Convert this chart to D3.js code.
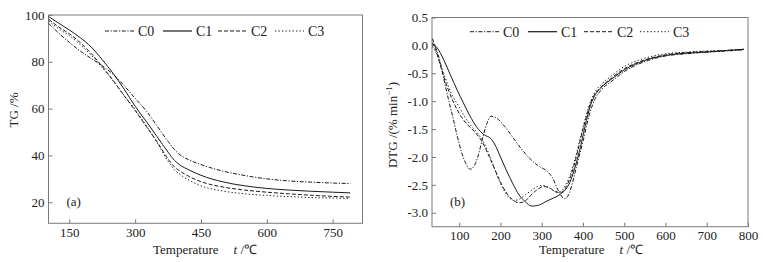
<!DOCTYPE html>
<html>
<head>
<meta charset="utf-8">
<script src="https://cdn.jsdelivr.net/npm/d3@7"></script>
<style>
	body { margin: 0; background: #fff; }
	svg { font-family: "Liberation Serif", "Times New Roman", serif; }
	.frame { fill: none; stroke: #7a7a7a; stroke-width: 1; }
	.series { fill: none; stroke: #1a1a1a; stroke-width: 1; }
	.tick line { stroke: #7a7a7a; }
	.tick text { fill: #222; font-size: 13px; font-family: "Liberation Serif", "Times New Roman", serif; }
</style>
</head>
<body>
<div class="graph"></div>
<script>
// series names
var seriesNames = ["C0", "C1", "C2", "C3"];

// (a) TG, [temperature °C, mass %]
var tgC0 = [[103, 96.4], [125, 92.4], [150, 88.3], [175, 84.6], [200, 81.4], [225, 78.3], [250, 74.6], [275, 69.8], [300, 64.4], [325, 59.1], [350, 52.6], [375, 46.0], [390, 42.4], [400, 40.6], [425, 37.9], [450, 36.1], [500, 33.3], [550, 31.4], [600, 30.0], [650, 29.1], [700, 28.6], [750, 28.2], [790, 28.0]];
var tgC1 = [[103, 99.3], [125, 96.6], [150, 93.6], [175, 90.3], [200, 86.3], [225, 80.9], [250, 75.0], [275, 68.3], [300, 61.0], [325, 54.6], [350, 48.0], [375, 41.4], [390, 37.8], [400, 36.2], [425, 33.6], [450, 31.5], [500, 28.7], [550, 27.0], [600, 25.9], [650, 25.2], [700, 24.7], [750, 24.3], [790, 24.0]];
var tgC2 = [[103, 98.2], [125, 95.0], [150, 92.0], [175, 88.2], [200, 83.5], [225, 78.0], [250, 72.0], [275, 65.5], [300, 59.2], [325, 52.5], [350, 45.8], [375, 38.5], [390, 35.0], [400, 33.6], [425, 30.8], [450, 28.8], [500, 26.5], [550, 25.2], [600, 24.3], [650, 23.6], [700, 23.0], [750, 22.5], [790, 22.2]];
var tgC3 = [[103, 97.5], [125, 94.2], [150, 91.2], [175, 87.3], [200, 82.8], [225, 77.5], [250, 71.8], [275, 65.6], [300, 59.6], [325, 52.8], [350, 45.5], [375, 37.5], [390, 33.8], [400, 32.2], [425, 29.2], [450, 27.0], [500, 24.8], [550, 23.6], [600, 22.9], [650, 22.4], [700, 22.0], [750, 21.8], [790, 21.6]];

// (b) DTG, [temperature °C, %/min]
var dtgC0 = [[35, 0.12], [45, -0.08], [55, -0.33], [65, -0.68], [75, -1.0], [85, -1.3], [95, -1.62], [105, -1.9], [115, -2.1], [127, -2.22], [137, -2.15], [147, -1.95], [157, -1.65], [167, -1.4], [177, -1.27], [190, -1.3], [210, -1.45], [230, -1.65], [250, -1.85], [270, -2.02], [290, -2.15], [315, -2.27], [325, -2.36], [340, -2.6], [355, -2.75], [365, -2.68], [375, -2.45], [385, -2.15], [400, -1.72], [415, -1.25], [430, -0.95], [445, -0.79], [470, -0.64], [500, -0.47], [550, -0.29], [600, -0.19], [650, -0.15], [700, -0.12], [750, -0.1], [790, -0.08]];
var dtgC1 = [[35, 0.02], [45, -0.03], [58, -0.19], [68, -0.35], [78, -0.52], [95, -0.8], [110, -1.03], [125, -1.25], [143, -1.47], [160, -1.6], [178, -1.68], [190, -1.83], [200, -2.0], [215, -2.25], [230, -2.48], [245, -2.68], [260, -2.8], [275, -2.88], [290, -2.87], [310, -2.8], [330, -2.73], [345, -2.67], [358, -2.58], [368, -2.46], [380, -2.2], [392, -1.88], [405, -1.45], [418, -1.08], [430, -0.88], [442, -0.77], [470, -0.6], [500, -0.44], [550, -0.27], [600, -0.18], [650, -0.14], [700, -0.12], [750, -0.09], [790, -0.07]];
var dtgC2 = [[35, 0.05], [45, -0.12], [55, -0.38], [65, -0.62], [78, -0.88], [90, -1.08], [105, -1.28], [120, -1.42], [140, -1.57], [155, -1.72], [170, -1.95], [185, -2.2], [200, -2.45], [215, -2.65], [230, -2.77], [245, -2.82], [258, -2.8], [272, -2.7], [290, -2.58], [305, -2.53], [320, -2.56], [335, -2.63], [345, -2.64], [358, -2.55], [370, -2.35], [382, -2.05], [395, -1.65], [408, -1.28], [420, -1.0], [432, -0.84], [442, -0.76], [470, -0.58], [500, -0.42], [550, -0.26], [600, -0.17], [650, -0.13], [700, -0.11], [750, -0.09], [790, -0.07]];
var dtgC3 = [[35, -0.02], [45, -0.15], [55, -0.35], [68, -0.62], [82, -0.88], [98, -1.08], [115, -1.3], [130, -1.45], [145, -1.58], [160, -1.75], [175, -2.0], [190, -2.3], [205, -2.55], [220, -2.72], [232, -2.78], [245, -2.76], [260, -2.68], [275, -2.6], [290, -2.53], [302, -2.51], [318, -2.55], [335, -2.62], [345, -2.62], [358, -2.5], [370, -2.3], [382, -2.0], [395, -1.62], [408, -1.25], [420, -0.98], [432, -0.8], [442, -0.72], [470, -0.54], [500, -0.38], [550, -0.23], [600, -0.15], [650, -0.12], [700, -0.1], [750, -0.09], [790, -0.07]];

// tick labels
var tgXTicks = [150, 300, 450, 600, 750];
var tgYTicks = [20, 40, 60, 80, 100];
var dtgXTicks = [100, 200, 300, 400, 500, 600, 700, 800];
var dtgYTicks = [-3.0, -2.5, -2.0, -1.5, -1.0, -0.5, 0.0, 0.5];

window.onload = function(){
	const WIDTH = 775;
	const HEIGHT = 262;

	// dash styles C0..C3
	var dashes = ["4,1.6,1.2,1.6", null, "4,2", "1.3,2.2"];
	var widths = [1, 1.2, 1, 1];

	var svg = d3.select(".graph").append("svg")
		.attr("width", WIDTH)
		.attr("height", HEIGHT);

	var drawPanel = function(opt){
		var g = svg.append("g");

		var xScale = d3.scaleLinear().domain(opt.xDomain).range([opt.left, opt.right]);
		var yScale = d3.scaleLinear().domain(opt.yDomain).range([opt.bottom, opt.top]);

		var line = d3.line()
			.curve(d3.curveMonotoneX)
			.x(function(d) {return xScale(d[0])})
			.y(function(d) {return yScale(d[1])});

		// axes with inward ticks
		g.append("g")
			.attr("class", "x axis")
			.attr("transform", "translate(0," + opt.bottom + ")")
			.call(d3.axisBottom(xScale).tickValues(opt.xTicks).tickSizeInner(-4).tickSizeOuter(0).tickPadding(4))
			.call(function(a){ a.select(".domain").remove(); });

		g.append("g")
			.attr("class", "y axis")
			.attr("transform", "translate(" + opt.left + ",0)")
			.call(d3.axisLeft(yScale).tickValues(opt.yTicks).tickSizeInner(-4).tickSizeOuter(0).tickPadding(4).tickFormat(opt.yFormat))
			.call(function(a){ a.select(".domain").remove(); });

		g.selectAll(".axis").attr("font-family", null).attr("font-size", null);

		g.append("rect")
			.attr("class", "frame")
			.attr("x", opt.left)
			.attr("y", opt.top)
			.attr("width", opt.right - opt.left)
			.attr("height", opt.bottom - opt.top);

		g.selectAll(".series").data(opt.series).enter().append("path")
			.attr("class", "series")
			.attr("d", function(d){ return line(d); })
			.attr("stroke-width", function(d,i){ return widths[i]; })
			.attr("stroke-dasharray", function(d,i){ return dashes[i]; });

		// legend
		var lg = g.selectAll(".legend").data(seriesNames).enter().append("g")
			.attr("class", "legend")
			.attr("transform", function(d,i){ return "translate(" + opt.legendX[i] + "," + opt.legendY + ")"; });
		lg.append("line")
			.attr("x1", 0).attr("x2", 29).attr("y1", 0).attr("y2", 0)
			.attr("stroke", "#1a1a1a")
			.attr("stroke-width", function(d,i){ return widths[i]; })
			.attr("stroke-dasharray", function(d,i){ return dashes[i]; });
		lg.append("text")
			.attr("x", 33).attr("y", 5)
			.attr("font-size", 14)
			.attr("fill", "#222")
			.text(function(d){ return d; });

		// panel tag
		g.append("text")
			.attr("x", opt.left + 18).attr("y", 206)
			.attr("font-size", 13)
			.attr("fill", "#222")
			.text(opt.tag);

		// x title
		var xt = g.append("text")
			.attr("x", opt.titleX).attr("y", 254)
			.attr("font-size", 13)
			.attr("fill", "#222");
		xt.append("tspan").text("Temperature");
		xt.append("tspan").attr("dx", 15).attr("font-style", "italic").text("t");
		xt.append("tspan").text(" /\u2103");

		// y title
		var yt = g.append("text")
			.attr("transform", "translate(" + opt.yTitleX + "," + opt.yTitleY + ") rotate(-90)")
			.attr("text-anchor", "middle")
			.attr("font-size", 13)
			.attr("fill", "#222");
		opt.yTitle(yt);
	};

	drawPanel({
		left: 48.5, right: 362.5, top: 15, bottom: 223.3,
		xDomain: [102.6, 818], yDomain: [11, 100],
		xTicks: tgXTicks, yTicks: tgYTicks,
		yFormat: d3.format("d"),
		series: [tgC0, tgC1, tgC2, tgC3],
		legendX: [105, 163, 218, 275], legendY: 31,
		tag: "(a)",
		titleX: 153,
		yTitleX: 18, yTitleY: 110,
		yTitle: function(t){ t.text("TG /%"); }
	});

	drawPanel({
		left: 432, right: 748, top: 17.5, bottom: 226.7,
		xDomain: [34, 800], yDomain: [-3.25, 0.5],
		xTicks: dtgXTicks, yTicks: dtgYTicks,
		yFormat: function(d){ return d3.format(".1f")(d).replace("\u2212", "-"); },
		series: [dtgC0, dtgC1, dtgC2, dtgC3],
		legendX: [470, 528, 584, 640], legendY: 31.7,
		tag: "(b)",
		titleX: 539,
		yTitleX: 397, yTitleY: 125,
		yTitle: function(t){
			t.append("tspan").text("DTG  /(% min");
			t.append("tspan").attr("font-size", 9).attr("baseline-shift", "super").text("\u22121");
			t.append("tspan").text(")");
		}
	});
};
</script>
</body>
</html>
